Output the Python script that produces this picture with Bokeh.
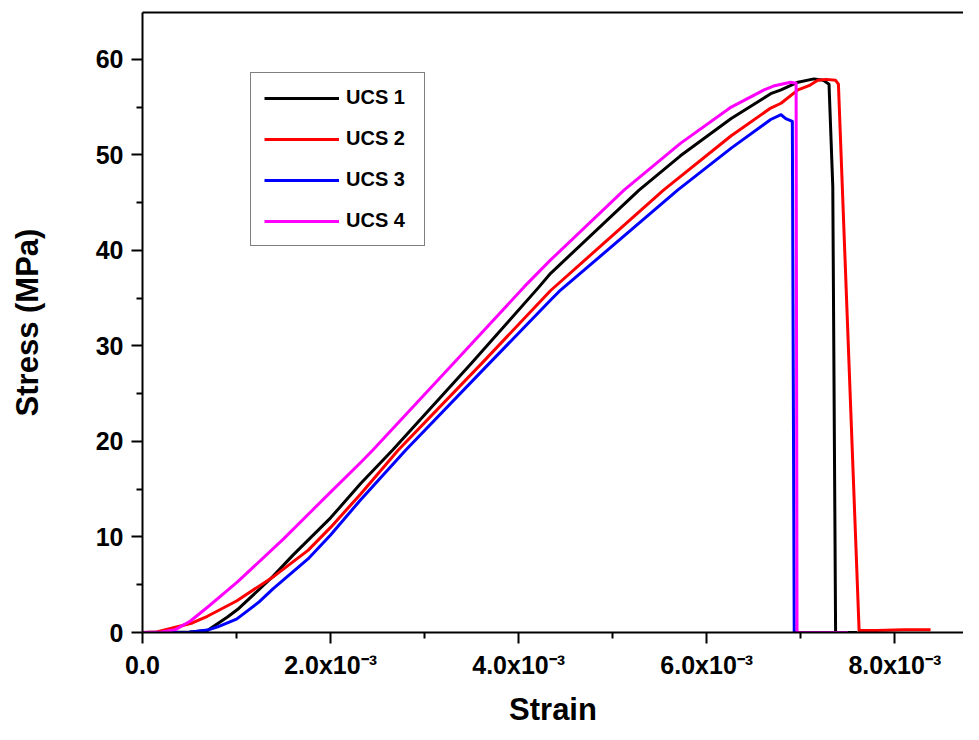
from bokeh.plotting import figure
from bokeh.models import Range1d, FixedTicker, LinearAxis, Legend, LegendItem
from bokeh.embed import file_html
from bokeh.resources import INLINE

# strain in units of 1e-3, stress in MPa
ucs1_strain = [0, 0.50, 0.69, 0.90, 1.01, 1.24, 1.39, 1.60, 2.00, 2.32, 2.66, 3.50, 4.21, 4.34, 5.28, 5.72, 6.26, 6.68, 6.79, 6.97, 7.14, 7.24, 7.30, 7.34, 7.37, 7.60]
ucs1_stress = [0, 0.05, 0.2, 1.6, 2.4, 4.5, 5.9, 8.1, 12.0, 15.6, 19.1, 28.2, 36.1, 37.6, 46.3, 49.9, 53.8, 56.4, 56.8, 57.6, 57.95, 57.8, 57.4, 46.7, 0, 0]

ucs2_strain = [0, 0.15, 0.33, 0.53, 0.69, 1.00, 1.40, 1.76, 2.00, 2.32, 2.72, 3.61, 4.34, 5.54, 6.26, 6.68, 6.79, 6.97, 7.10, 7.18, 7.27, 7.37, 7.40, 7.62, 7.80, 8.10, 8.38]
ucs2_stress = [0, 0.05, 0.5, 1.0, 1.7, 3.3, 5.9, 8.6, 11.0, 14.5, 19.1, 28.2, 35.8, 46.3, 52.0, 54.9, 55.4, 56.8, 57.3, 57.8, 57.9, 57.8, 57.4, 0.2, 0.2, 0.3, 0.3]

ucs3_strain = [0, 0.50, 0.69, 0.80, 1.00, 1.24, 1.39, 1.76, 2.00, 2.32, 2.80, 3.69, 4.34, 4.43, 5.69, 6.26, 6.68, 6.79, 6.84, 6.91, 6.93, 6.96]
ucs3_stress = [0, 0.02, 0.25, 0.6, 1.4, 3.2, 4.6, 7.7, 10.2, 13.9, 19.1, 28.2, 34.8, 35.7, 46.3, 50.7, 53.7, 54.2, 53.8, 53.5, 0, 0]

ucs4_strain = [0, 0.20, 0.35, 0.51, 0.71, 1.01, 1.50, 2.00, 2.32, 2.45, 3.31, 4.06, 4.34, 5.12, 5.72, 6.26, 6.61, 6.71, 6.89, 6.95, 6.96, 7.50]
ucs4_stress = [0, 0.05, 0.3, 1.2, 2.8, 5.3, 9.8, 14.7, 17.8, 19.1, 28.2, 36.2, 39.0, 46.3, 51.2, 55.0, 56.8, 57.2, 57.6, 57.5, 0, 0]

series_names = ["UCS 1", "UCS 2", "UCS 3", "UCS 4"]
series_colors = ["#000000", "#FF0000", "#0000FF", "#FF00FF"]

x_ticks = [0, 2, 4, 6, 8]
x_minor = [1, 3, 5, 7]
x_tick_labels = ["0.0", "2.0x10\u207b\u00b3", "4.0x10\u207b\u00b3", "6.0x10\u207b\u00b3", "8.0x10\u207b\u00b3"]
y_ticks = [0, 10, 20, 30, 40, 50, 60]
y_minor = [5, 15, 25, 35, 45, 55]

FONT = "Liberation Sans"

p = figure(width=963, height=732, output_backend="svg", toolbar_location=None,
           x_range=Range1d(0, 8.73), y_range=Range1d(0, 64.9),
           min_border_left=142, min_border_top=12, min_border_right=0, min_border_bottom=100)
p.outline_line_color = None
p.grid.visible = False
p.background_fill_color = "white"
p.border_fill_color = "white"

data = [(ucs1_strain, ucs1_stress), (ucs2_strain, ucs2_stress), (ucs3_strain, ucs3_stress), (ucs4_strain, ucs4_stress)]
renderers = []
for (xs, ys), c in zip(data, series_colors):
    r = p.line(xs, ys, line_color=c, line_width=3, line_join="round")
    renderers.append(r)

xa = p.xaxis[0]
xa.ticker = FixedTicker(ticks=x_ticks, minor_ticks=x_minor)
xa.major_label_overrides = {t: l for t, l in zip(x_ticks, x_tick_labels)}
xa.axis_label = "Strain"
ya = p.yaxis[0]
ya.ticker = FixedTicker(ticks=y_ticks, minor_ticks=y_minor)
ya.axis_label = "Stress (MPa)"

for ax in (xa, ya):
    ax.axis_line_width = 2
    ax.axis_line_color = "black"
    ax.major_tick_line_width = 2
    ax.minor_tick_line_width = 2
    ax.major_tick_in = 0
    ax.major_tick_out = 11
    ax.minor_tick_in = 0
    ax.minor_tick_out = 6
    ax.major_label_text_font = FONT
    ax.major_label_text_font_style = "bold"
    ax.major_label_text_font_size = "25px"
    ax.major_label_text_color = "black"
    ax.axis_label_text_font = FONT
    ax.axis_label_text_font_style = "bold"
    ax.axis_label_text_font_size = "31px"
    ax.axis_label_text_color = "black"
xa.major_label_standoff = 7
xa.axis_label_standoff = 10
ya.major_label_standoff = 8
ya.axis_label_standoff = 48

top = LinearAxis(ticker=FixedTicker(ticks=x_ticks), axis_line_width=2, axis_line_color="black",
                 major_label_text_font_size="1px", major_label_text_alpha=0,
                 major_label_standoff=0, major_tick_out=0, major_tick_in=0,
                 minor_tick_out=0, minor_tick_in=0)
p.add_layout(top, "above")

legend = Legend(items=[LegendItem(label=n, renderers=[r]) for n, r in zip(series_names, renderers)],
                location=(108, 386))
legend.label_text_font = FONT
legend.label_text_font_style = "bold"
legend.label_text_font_size = "20px"
legend.label_text_color = "black"
legend.glyph_width = 75
legend.glyph_height = 20
legend.label_height = 20
legend.label_width = 65
legend.label_standoff = 7
legend.spacing = 18
legend.padding = 13
legend.margin = 0
legend.border_line_color = "black"
legend.border_line_width = 1
legend.background_fill_alpha = 1
p.add_layout(legend, "center")

open("out.html", "w").write(file_html(p, INLINE))
